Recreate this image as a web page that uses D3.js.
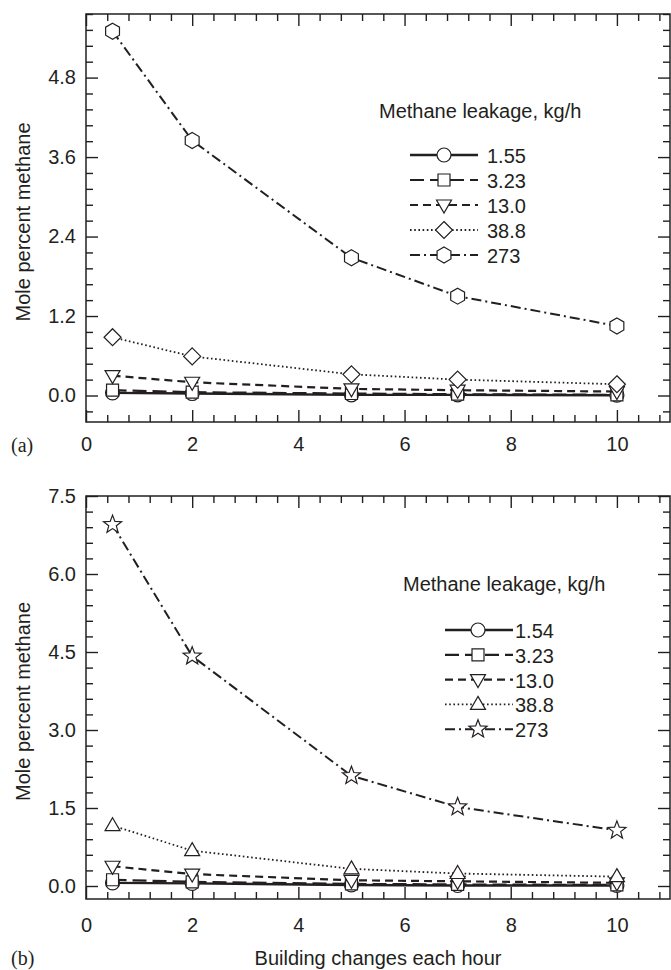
<!DOCTYPE html>
<html><head><meta charset="utf-8">
<script src="https://cdn.jsdelivr.net/npm/d3@7"></script>
<style>
body{margin:0;background:#fff}
svg{display:block}
text{font-family:"Liberation Sans",Arial,Helvetica,sans-serif;fill:#231f20}
</style>
</head><body>
<svg id="c" width="671" height="970"></svg>
<script>
// ---------------- data ----------------
const xValues = [0.5, 2, 5, 7, 10];
const xTickValues = [0, 2, 4, 6, 8, 10];
const yTicksA = [0, 1.2, 2.4, 3.6, 4.8];
const yTicksB = [0, 1.5, 3.0, 4.5, 6.0, 7.5];
const legendTitle = "Methane leakage, kg/h";
const leakA = ["1.55", "3.23", "13.0", "38.8", "273"];
const leakB = ["1.54", "3.23", "13.0", "38.8", "273"];
const a_155 = [0.04, 0.03, 0.01, 0.01, 0.005];
const a_323 = [0.08, 0.05, 0.03, 0.02, 0.01];
const a_130 = [0.30, 0.20, 0.10, 0.08, 0.06];
const a_388 = [0.88, 0.59, 0.32, 0.24, 0.17];
const a_273 = [5.50, 3.85, 2.08, 1.50, 1.05];
const b_154 = [0.06, 0.05, 0.02, 0.01, 0.01];
const b_323 = [0.12, 0.08, 0.04, 0.03, 0.02];
const b_130 = [0.38, 0.23, 0.11, 0.09, 0.06];
const b_388 = [1.16, 0.68, 0.33, 0.24, 0.18];
const b_273 = [6.95, 4.42, 2.12, 1.52, 1.07];
const xLabel = "Building changes each hour";
const yLabel = "Mole percent methane";
const panelTags = ["(a)", "(b)"];

// ---------------- styles ----------------
const INK = "#231f20";
const dashes = [null, "14,6", "8,5", "1.6,2.6", "10,4,2,4"];
const widths = [2.4, 2.2, 2.2, 1.8, 2.0];
const symbolsA = ["circle", "square", "triDown", "diamond", "hexagon"];
const symbolsB = ["circle", "square", "triDown", "triUp", "star"];

function symPath(t) {
  switch (t) {
    case "circle": { const r = 7; return `M${-r},0A${r},${r} 0 1,0 ${r},0A${r},${r} 0 1,0 ${-r},0Z`; }
    case "square": return "M-6,-6H6V6H-6Z";
    case "triDown": return "M-7.5,-5L7.5,-5L0,8Z";
    case "triUp": return "M0,-8L7.5,5L-7.5,5Z";
    case "diamond": return "M0,-8.5L8.5,0L0,8.5L-8.5,0Z";
    case "hexagon": {
      const r = 8; let p = [];
      for (let i = 0; i < 6; i++) { const a = (-90 + 60 * i) * Math.PI / 180; p.push([r * Math.cos(a), r * Math.sin(a)]); }
      return "M" + p.map(q => q[0].toFixed(2) + "," + q[1].toFixed(2)).join("L") + "Z";
    }
    case "star": {
      const ro = 9.5, ri = 4; let p = [];
      for (let i = 0; i < 10; i++) { const r = i % 2 ? ri : ro; const a = (-90 + 36 * i) * Math.PI / 180; p.push([r * Math.cos(a), r * Math.sin(a)]); }
      return "M" + p.map(q => q[0].toFixed(2) + "," + q[1].toFixed(2)).join("L") + "Z";
    }
  }
}

const svg = d3.select("#c");

const panels = [
  { top: 14, bottom: 422, yDom: [-0.4, 5.76], yTicks: yTicksA, yMinorStep: 0.24, xPad: 15,
    series: [a_155, a_323, a_130, a_388, a_273], labels: leakA, symbols: symbolsA,
    legend: { titleX: 379, titleY: 111, x1: 410, x2: 478, xm: 444, labelX: 487, y0: 155, dy: 25 },
    tagY: 445, showXTitle: false },
  { top: 496, bottom: 899, yDom: [-0.25, 7.5], yTicks: yTicksB, yMinorStep: 0.3, xPad: 19,
    series: [b_154, b_323, b_130, b_388, b_273], labels: leakB, symbols: symbolsB,
    legend: { titleX: 403, titleY: 584, x1: 445, x2: 513, xm: 478, labelX: 515, y0: 630, dy: 24.8 },
    tagY: 958, showXTitle: true }
];

const xMinor = d3.range(0, 28).map(i => +(i * 0.4).toFixed(2)).filter(v => Math.abs(v / 2 - Math.round(v / 2)) > 1e-6);

panels.forEach((P, pi) => {
  const x = d3.scaleLinear().domain([0, 11]).range([86, 670]);
  const y = d3.scaleLinear().domain(P.yDom).range([P.bottom, P.top]);
  const g = svg.append("g");

  const n0 = Math.ceil(P.yDom[0] / P.yMinorStep - 1e-6), n1 = Math.floor(P.yDom[1] / P.yMinorStep + 1e-6);
  const yMinor = d3.range(n0, n1 + 1).map(i => +(i * P.yMinorStep).toFixed(3))
    .filter(v => !P.yTicks.some(t => Math.abs(t - v) < 1e-6));

  function styleAxis(sel) {
    sel.select(".domain").remove();
    sel.selectAll("line").attr("stroke", INK).attr("stroke-width", 1.4);
    sel.selectAll("text").attr("font-size", 20).attr("fill", INK)
      .style("font-family", '"Liberation Sans",Arial,sans-serif');
  }
  // bottom
  g.append("g").attr("transform", `translate(0,${P.bottom})`)
    .call(d3.axisBottom(x).tickValues(xTickValues).tickSizeInner(-12).tickSizeOuter(0).tickPadding(P.xPad).tickFormat(d3.format("d"))).call(styleAxis);
  g.append("g").attr("transform", `translate(0,${P.bottom})`)
    .call(d3.axisBottom(x).tickValues(xMinor).tickSizeInner(-7).tickSizeOuter(0).tickFormat("")).call(styleAxis);
  // top
  g.append("g").attr("transform", `translate(0,${P.top})`)
    .call(d3.axisTop(x).tickValues(xTickValues).tickSizeInner(-12).tickSizeOuter(0).tickFormat("")).call(styleAxis);
  g.append("g").attr("transform", `translate(0,${P.top})`)
    .call(d3.axisTop(x).tickValues(xMinor).tickSizeInner(-7).tickSizeOuter(0).tickFormat("")).call(styleAxis);
  // left
  g.append("g").attr("transform", `translate(86,0)`)
    .call(d3.axisLeft(y).tickValues(P.yTicks).tickSizeInner(-12).tickSizeOuter(0).tickPadding(10).tickFormat(d3.format(".1f"))).call(styleAxis);
  g.append("g").attr("transform", `translate(86,0)`)
    .call(d3.axisLeft(y).tickValues(yMinor).tickSizeInner(-7).tickSizeOuter(0).tickFormat("")).call(styleAxis);
  // right
  g.append("g").attr("transform", `translate(670,0)`)
    .call(d3.axisRight(y).tickValues(P.yTicks).tickSizeInner(-12).tickSizeOuter(0).tickFormat("")).call(styleAxis);
  g.append("g").attr("transform", `translate(670,0)`)
    .call(d3.axisRight(y).tickValues(yMinor).tickSizeInner(-7).tickSizeOuter(0).tickFormat("")).call(styleAxis);

  // frame
  g.append("rect").attr("x", 86).attr("y", P.top).attr("width", 670 - 86).attr("height", P.bottom - P.top)
    .attr("fill", "none").attr("stroke", INK).attr("stroke-width", 1.5);

  // y label
  g.append("text").attr("transform", `translate(23,${(P.top + P.bottom) / 2 + 4}) rotate(-90)`)
    .attr("text-anchor", "middle").attr("dominant-baseline", "central").attr("font-size", 20).text(yLabel);

  // tag
  g.append("text").attr("x", 11).attr("y", P.tagY).attr("dominant-baseline", "central")
    .attr("font-size", 20).style("font-family", '"Liberation Serif","Times New Roman",serif').text(panelTags[pi]);

  if (P.showXTitle) {
    g.append("text").attr("x", 378).attr("y", 958).attr("text-anchor", "middle").attr("dominant-baseline", "central")
      .attr("font-size", 20).text(xLabel);
  }

  // series
  const line = d3.line().x((d, i) => x(xValues[i])).y(d => y(d));
  P.series.forEach((vals, si) => {
    g.append("path").datum(vals).attr("d", line).attr("fill", "none").attr("stroke", INK)
      .attr("stroke-width", widths[si]).attr("stroke-dasharray", dashes[si]);
    g.selectAll(null).data(vals).enter().append("path")
      .attr("transform", (d, i) => `translate(${x(xValues[i])},${y(d)})`)
      .attr("d", symPath(P.symbols[si])).attr("fill", "#fff").attr("stroke", INK).attr("stroke-width", 1.2);
  });

  // legend
  const L = P.legend;
  g.append("text").attr("x", L.titleX).attr("y", L.titleY).attr("dominant-baseline", "central")
    .attr("font-size", 20).text(legendTitle);
  P.labels.forEach((lab, si) => {
    const yy = L.y0 + si * L.dy;
    g.append("line").attr("x1", L.x1).attr("x2", L.x2).attr("y1", yy).attr("y2", yy)
      .attr("stroke", INK).attr("stroke-width", widths[si]).attr("stroke-dasharray", dashes[si]);
    g.append("path").attr("transform", `translate(${L.xm},${yy})`).attr("d", symPath(P.symbols[si]))
      .attr("fill", "#fff").attr("stroke", INK).attr("stroke-width", 1.2);
    g.append("text").attr("x", L.labelX).attr("y", yy + 1).attr("dominant-baseline", "central")
      .attr("font-size", 20).text(lab);
  });
});
</script>
</body></html>
